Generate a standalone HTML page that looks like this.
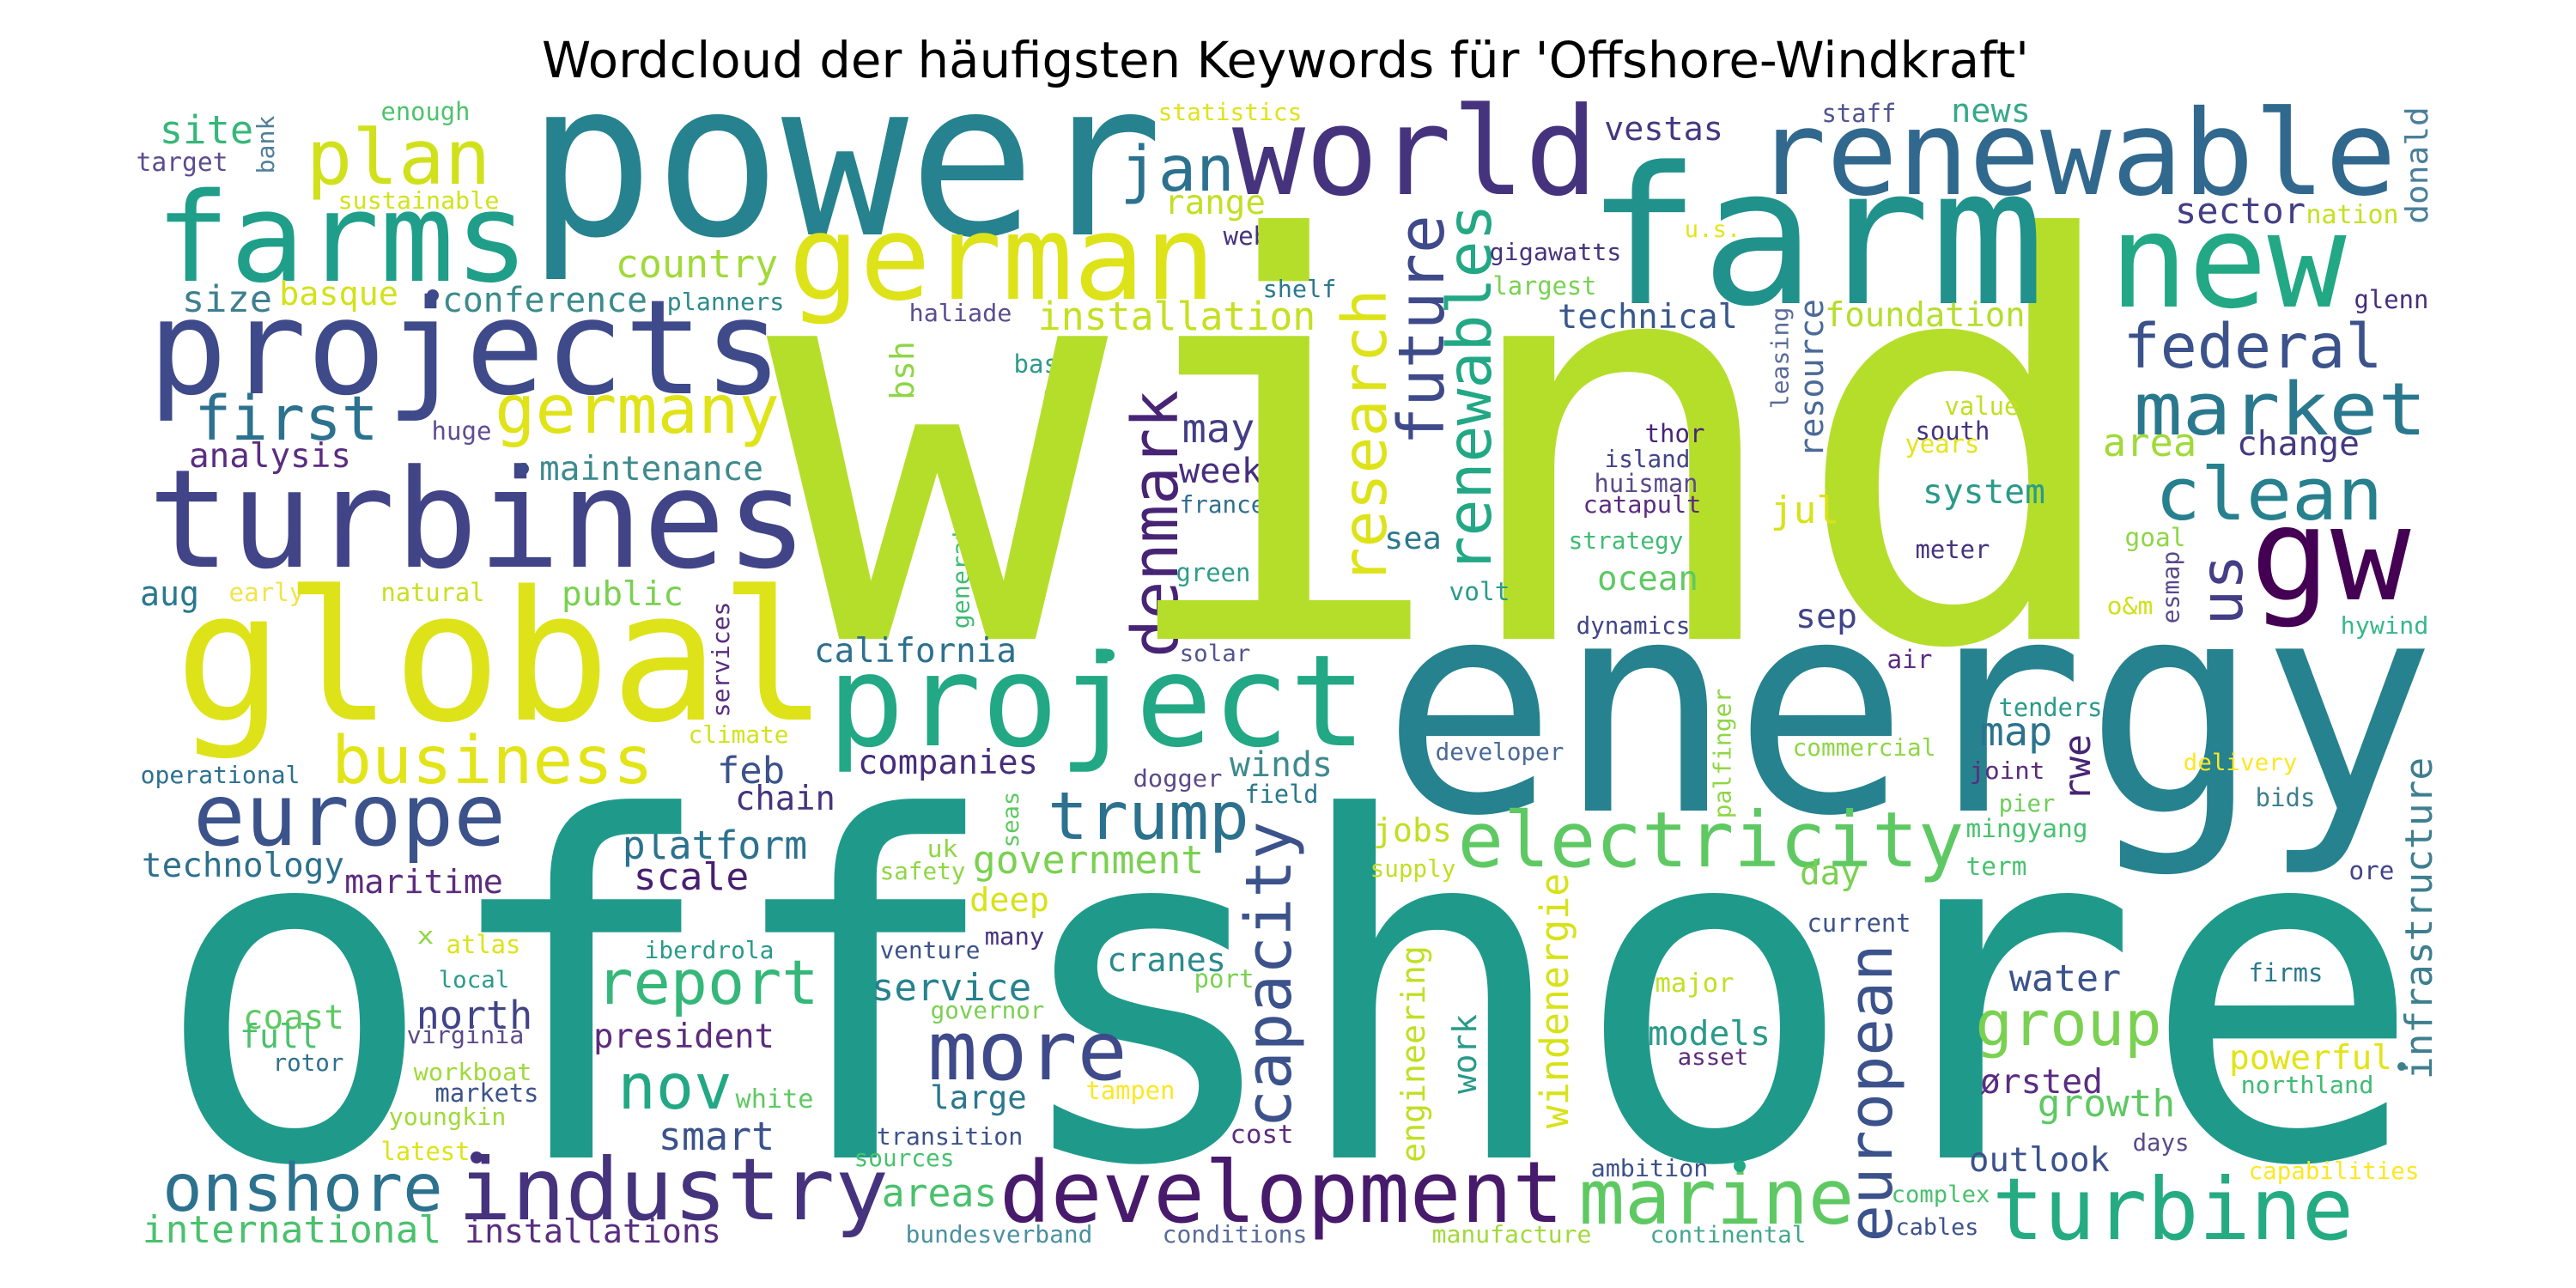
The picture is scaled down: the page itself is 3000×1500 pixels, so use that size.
<!DOCTYPE html>
<html>
<head>
<meta charset="utf-8">
<style>
html,body{margin:0;padding:0;background:#fff;}
svg{display:block;}
</style>
</head>
<body>
<svg id="cloud" width="3000" height="1500" viewBox="0 0 3000 1500" xmlns="http://www.w3.org/2000/svg">
<rect x="0" y="0" width="3000" height="1500" fill="#ffffff"/>
<text x="1497" y="90" text-anchor="middle" font-family="'DejaVu Sans', 'Liberation Sans', sans-serif" font-size="58" textLength="1732" lengthAdjust="spacingAndGlyphs" fill="#000">Wordcloud der häufigsten Keywords für 'Offshore-Windkraft'</text>
<g id="words"></g>
<g id="dots"></g>
</svg>
<script>
// word, x-left, x-right, y-top (rotated only), baseline / bottom, font size, color, rotated
const cloudRows = [
["site",188,293,0,167,45,"#35b779",0],
["bank",298,319,136,201,28,"#4f7f9a",1],
["target",160,264,0,199,30,"#5c4d8f",0],
["enough",445,546,0,140,29,"#4ec36b",0],
["plan",361,567,0,214,88,"#d0e11c",0],
["sustainable",395,580,0,243,28,"#d2e21b",0],
["farms",188,609,0,327,144,"#1f9e89",0],
["power",626,1342,0,273,250,"#26828e",0],
["statistics",1350,1515,0,140,28,"#dfe318",0],
["jan",1308,1434,0,222,73,"#2c728e",0],
["range",1358,1472,0,249,39,"#c2df23",0],
["web",1426,1476,0,285,29,"#46337e",0],
["german",925,1409,0,348,137,"#dde318",0],
["country",719,904,0,323,45,"#a0da39",0],
["size",214,315,0,363,43,"#3e7f8e",0],
["basque",327,462,0,355,38,"#d2e21b",0],
["conference",517,752,0,363,40,"#3b8b8c",0],
["planners",778,912,0,361,28,"#2c8a8c",0],
["haliade",1060,1177,0,374,28,"#5b4c8f",0],
["installation",1211,1530,0,384,45,"#c5e021",0],
["projects",180,904,0,458,153,"#3e4a89",0],
["first",230,437,0,512,71,"#2c728e",0],
["huge",504,571,0,512,29,"#5e4d93",0],
["germany",580,904,0,504,78,"#e0e318",0],
["bsh",1034,1064,399,464,38,"#8ed645",1],
["basf",1182,1249,0,434,29,"#2d9a8a",0],
["sumitomo",1203,1232,451,584,28,"#3fbc73",1],
["denmark",1312,1371,458,762,74,"#482475",1],
["may",1379,1459,0,515,46,"#433e85",0],
["week",1375,1468,0,562,40,"#472f7d",0],
["france",1375,1472,0,597,28,"#2e6e8e",0],
["analysis",222,407,0,544,39,"#5a2d81",0],
["maintenance",630,887,0,559,39,"#3e8a8e",0],
["turbines",180,933,0,660,159,"#414487",0],
["generation",1114,1135,563,731,28,"#3fbc73",1],
["green",1371,1455,0,677,29,"#2e9d8a",0],
["aug",165,230,0,705,40,"#2a788e",0],
["early",268,353,0,700,29,"#f0e44a",0],
["natural",445,563,0,700,29,"#c8e020",0],
["public",656,794,0,705,39,"#7ad151",0],
["services",828,849,702,834,28,"#5a2d81",1],
["global",214,954,0,838,210,"#dde318",0],
["wind",925,2451,0,744,645,"#b5de2b",0],
["world",1442,1854,0,226,142,"#46337e",0],
["vestas",1870,2005,0,163,38,"#453781",0],
["staff",2123,2207,0,142,29,"#52548f",0],
["news",2274,2363,0,142,38,"#36a98a",0],
["renewable",2051,2784,0,226,137,"#31688e",0],
["donald",2802,2827,126,259,36,"#4a7f9a",1],
["farm",1858,2371,0,353,222,"#21918c",0],
["u.s.",1963,2026,0,276,27,"#e5e419",0],
["sector",2535,2683,0,260,42,"#433e85",0],
["nation",2687,2792,0,260,30,"#c5e021",0],
["new",2464,2725,0,357,152,"#22a884",0],
["future",1626,1681,254,515,74,"#3e4a89",1],
["research",1559,1614,340,677,71,"#dde318",1],
["renewables",1689,1736,241,664,71,"#22a884",1],
["gigawatts",1736,1887,0,303,28,"#46337e",0],
["shelf",1472,1555,0,346,28,"#2a788e",0],
["largest",1740,1858,0,343,29,"#7ad151",0],
["technical",1816,2022,0,382,39,"#38588c",0],
["leasing",2064,2089,359,475,28,"#5a6b9a",1],
["resource",2093,2123,350,531,38,"#4a6a98",1],
["foundations",2127,2380,0,380,39,"#b5de2b",0],
["glenn",2743,2827,0,359,29,"#472d7b",0],
["federal",2476,2771,0,428,71,"#3b528b",0],
["market",2489,2822,0,506,85,"#2a788e",0],
["value",2266,2350,0,483,29,"#c2df23",0],
["thor",1917,1984,0,515,29,"#482475",0],
["south",2232,2316,0,512,29,"#46337e",0],
["years",2220,2304,0,527,29,"#e5e419",0],
["area",2451,2556,0,531,45,"#a0da39",0],
["change",2607,2746,0,530,39,"#443983",0],
["island",1870,1967,0,544,28,"#414487",0],
["huisman",1858,1976,0,573,29,"#5a4a8a",0],
["catapult",1845,1980,0,597,28,"#5c2c7e",0],
["clean",2514,2771,0,605,85,"#27808e",0],
["system",2241,2380,0,586,39,"#2a9a8a",0],
["jul",2064,2140,0,609,44,"#d8e219",0],
["sea",1614,1677,0,639,36,"#2a788e",0],
["strategy",1828,1959,0,639,28,"#3fbc73",0],
["meter",2232,2316,0,650,29,"#46337e",0],
["goal",2476,2544,0,636,29,"#8ed645",0],
["us",2569,2611,649,725,68,"#433e85",1],
["gw",2628,2800,0,698,150,"#440154",0],
["esmap",2514,2544,643,725,28,"#5a4a8a",1],
["o&m",2455,2506,0,715,28,"#d0e11c",0],
["ocean",1862,1976,0,687,39,"#5ec962",0],
["volt",1689,1757,0,699,29,"#2a9a8a",0],
["dynamics",1837,1967,0,738,28,"#414487",0],
["sep",2093,2161,0,731,39,"#414487",0],
["hywind",2727,2827,0,738,28,"#37b78a",0],
["california",950,1182,0,771,39,"#2d708e",0],
["solar",1375,1455,0,770,27,"#52548f",0],
["project",971,1584,0,868,148,"#22a884",0],
["business",390,757,0,912,77,"#e2e418",0],
["climate",803,917,0,865,28,"#d2e21b",0],
["feb",837,912,0,912,43,"#3b528b",0],
["companies",1001,1207,0,901,39,"#472d7b",0],
["operational",165,348,0,912,28,"#2d708e",0],
["chain",858,971,0,943,39,"#46337e",0],
["dogger",1321,1422,0,916,28,"#5a4a8a",0],
["winds",1434,1550,0,904,40,"#3e8a8e",0],
["field",1451,1534,0,935,29,"#2a788e",0],
["europe",230,584,0,984,100,"#3b528b",0],
["trump",1224,1451,0,977,77,"#2c728e",0],
["capacity",1455,1521,960,1310,74,"#3b528b",1],
["platform",727,938,0,1000,45,"#2c728e",0],
["technology",167,399,0,1021,39,"#2d708e",0],
["maritime",403,584,0,1040,38,"#5c2c7e",0],
["scale",740,870,0,1036,44,"#481f70",0],
["uk",1081,1114,0,998,28,"#8ed645",0],
["seas",1169,1186,923,986,27,"#5ec962",1],
["safety",1026,1123,0,1024,28,"#8ed645",0],
["government",1135,1400,0,1017,45,"#7ad151",0],
["deep",1131,1220,0,1061,38,"#d8e219",0],
["offshore",205,2796,0,1348,550,"#1f9a8a",0],
["x",487,504,0,1099,28,"#8ed645",0],
["atlas",521,605,0,1110,29,"#dde318",0],
["iberdrola",752,900,0,1116,28,"#2a9a8a",0],
["venture",1026,1140,0,1116,28,"#3b528b",0],
["many",1148,1215,0,1100,28,"#46337e",0],
["cranes",1291,1426,0,1131,38,"#2c8a8c",0],
["local",512,592,0,1150,27,"#2a9a8a",0],
["report",698,950,0,1169,71,"#35b779",0],
["service",1017,1199,0,1165,44,"#26828e",0],
["port",1392,1459,0,1150,29,"#7ad151",0],
["governor",1085,1215,0,1186,28,"#7ad151",0],
["coast",285,399,0,1198,39,"#5ec962",0],
["north",487,618,0,1198,45,"#414487",0],
["full",281,369,0,1220,38,"#4ac16d",0],
["virginia",475,609,0,1215,28,"#5a4a8a",0],
["president",693,900,0,1220,39,"#5c2c7e",0],
["more",1085,1308,0,1257,95,"#3e4a89",0],
["rotor",319,399,0,1247,28,"#2d708e",0],
["workboat",483,618,0,1258,28,"#a0da39",0],
["nov",723,849,0,1291,73,"#22a884",0],
["white",858,946,0,1290,30,"#5ec962",0],
["large",1085,1194,0,1291,37,"#2a788e",0],
["tampen",1266,1367,0,1280,29,"#fde725",0],
["markets",508,626,0,1283,29,"#3b528b",0],
["youngkin",454,588,0,1310,28,"#a0da39",0],
["smart",769,900,0,1339,45,"#3b528b",0],
["transition",1022,1190,0,1333,28,"#3b528b",0],
["cost",1434,1505,0,1331,29,"#5c2c7e",0],
["latest",445,546,0,1351,29,"#dde318",0],
["sources",996,1110,0,1358,28,"#48c16e",0],
["onshore",193,512,0,1410,77,"#2c728e",0],
["industry",538,1030,0,1420,100,"#46337e",0],
["areas",1029,1159,0,1405,45,"#4ac16d",0],
["development",1169,1816,0,1423,99,"#481a6c",0],
["international",168,512,0,1447,44,"#4ac16d",0],
["installations",543,838,0,1447,38,"#5a2d81",0],
["bundesverband",1056,1271,0,1447,28,"#4a90a0",0],
["conditions",1355,1521,0,1447,28,"#5a6b9a",0],
["energy",1626,2820,0,944,345,"#26828e",0],
["air",2199,2249,0,778,29,"#5c2c7e",0],
["tenders",2329,2447,0,834,29,"#2a9a8a",0],
["palfinger",1997,2022,803,952,28,"#8ed645",1],
["commercial",2089,2253,0,880,28,"#8ed645",0],
["map",2308,2388,0,868,46,"#2c728e",0],
["rwe",2405,2434,857,931,43,"#482475",1],
["developer",1673,1820,0,885,28,"#4a6a98",0],
["delivery",2544,2674,0,897,27,"#fde725",0],
["joint",2295,2380,0,907,28,"#5c2c7e",0],
["bids",2628,2695,0,939,29,"#3e7f8e",0],
["pier",2329,2392,0,945,28,"#6ece58",0],
["jobs",1601,1689,0,980,38,"#c2df23",0],
["electricity",1702,2283,0,1009,89,"#5ec962",0],
["mingyang",2291,2430,0,975,29,"#48c16e",0],
["infrastructure",2802,2832,884,1255,44,"#3e7f8e",1],
["supply",1597,1694,0,1021,28,"#c2df23",0],
["term",2291,2359,0,1019,29,"#48c16e",0],
["day",2098,2165,0,1030,39,"#7ad151",0],
["ore",2737,2787,0,1024,29,"#414487",0],
["current",2106,2224,0,1085,29,"#3b528b",0],
["windenergie",1807,1837,1019,1312,45,"#d8e219",1],
["engineering",1635,1668,1103,1352,38,"#c2df23",1],
["work",1694,1719,1183,1272,38,"#2a9a8a",1],
["european",2160,2220,1103,1443,70,"#3b528b",1],
["major",1929,2018,0,1155,30,"#c2df23",0],
["water",2342,2468,0,1154,43,"#3b528b",0],
["firms",2620,2704,0,1143,29,"#2a788e",0],
["models",1921,2060,0,1217,39,"#2a9a8a",0],
["group",2304,2514,0,1217,72,"#7ad151",0],
["asset",1955,2035,0,1240,27,"#5c2c7e",0],
["powerful",2598,2784,0,1245,39,"#e2e418",0],
["ørsted",2308,2447,0,1273,39,"#5a2d81",0],
["northland",2611,2763,0,1273,28,"#3fbc73",0],
["growth",2375,2531,0,1300,44,"#5ec962",0],
["days",2485,2548,0,1340,28,"#5a4a8a",0],
["outlook",2295,2455,0,1364,39,"#3b528b",0],
["capabilities",2620,2816,0,1373,28,"#fde725",0],
["ambition",1854,1988,0,1370,28,"#3b528b",0],
["complex",2204,2316,0,1400,27,"#48c16e",0],
["marine",1843,2155,0,1425,88,"#5ec962",0],
["manufacture",1669,1852,0,1447,28,"#a0da39",0],
["continental",1923,2102,0,1447,27,"#42a68f",0],
["cables",2209,2303,0,1438,27,"#3b528b",0],
["turbine",2325,2736,0,1443,100,"#25ab82",0]
];
// standalone "." tokens: centre x, centre y, radius, color
const dotX = [504, 609, 1291, 555, 2026, 2797];
const dotY = [344, 546, 763, 1348, 1358, 1242];
const dotR = [7, 7, 7, 7, 7, 5];
const dotColors = ["#3e4a89", "#3e4a89", "#22a884", "#46337e", "#22a884", "#3e7f8e"];

const NS = "http://www.w3.org/2000/svg";
const wg = document.getElementById("words");
cloudRows.forEach(function(r){
  const w = r[0], x0 = r[1], x1 = r[2], y0 = r[3], y1 = r[4], s = r[5], c = r[6], rot = r[7];
  const t = document.createElementNS(NS, "text");
  
  
  t.setAttribute("font-family", "'DejaVu Sans Mono', 'Liberation Mono', monospace");
  t.setAttribute("font-size", s);
  t.setAttribute("fill", c);
  t.setAttribute("lengthAdjust", "spacingAndGlyphs");
  if (rot) {
    const desc = /[gjpqy]/.test(w) ? 0.24 * s : 0;
    const ax = x1 - desc;
    const ay = y1 + 0.05 * s;
    t.setAttribute("x", 0);
    t.setAttribute("y", 0);
    t.setAttribute("textLength", (y1 - y0) + 0.1 * s);
    t.setAttribute("transform", "translate(" + ax + "," + ay + ") rotate(-90)");
  } else {
    t.setAttribute("x", x0 - 0.05 * s);
    t.setAttribute("y", y1);
    t.setAttribute("textLength", (x1 - x0) + 0.1 * s);
  }
  t.textContent = w;
  wg.appendChild(t);
});
const dg = document.getElementById("dots");
dotX.forEach(function(x, i){
  const c = document.createElementNS(NS, "circle");
  
  
  c.setAttribute("cx", x);
  c.setAttribute("cy", dotY[i]);
  c.setAttribute("r", dotR[i]);
  c.setAttribute("fill", dotColors[i]);
  dg.appendChild(c);
});
</script>
</body>
</html>
